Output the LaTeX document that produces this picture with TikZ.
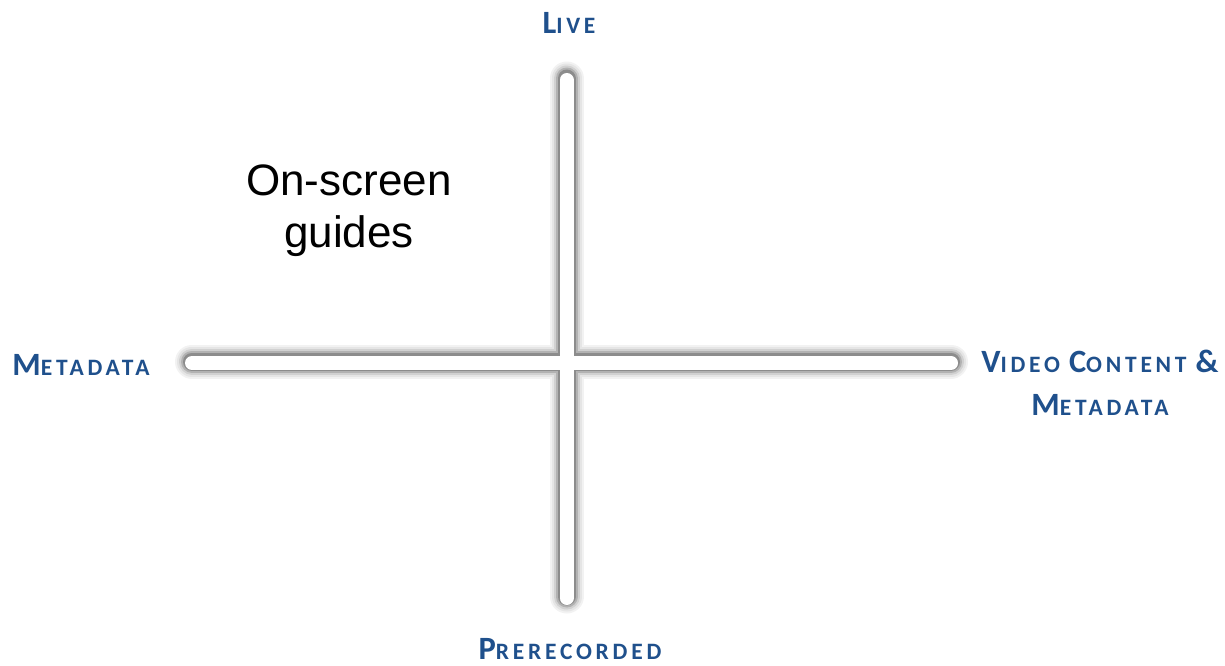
\documentclass[tikz,border=0pt]{standalone}
\usepackage{fontspec}
\setmainfont{Liberation Sans}
\newfontfamily\lblfont{Carlito}[BoldFont={* Bold}, LetterSpace=16]
\definecolor{axisblue}{RGB}{31,80,140}
\newcommand\fakesc[2]{{\fontsize{32.5}{40}\selectfont #1}{\fontsize{23.5}{40}\selectfont #2}}
\tikzset{
  axislabel/.style={text=axisblue, font=\lblfont\bfseries\fontsize{23.5}{43}\selectfont, inner sep=0pt, anchor=base},
  shadowA/.style={draw=black!5, line width=34pt, line cap=round},
  shadowB/.style={draw=black!10, line width=30pt, line cap=round},
  shadowC/.style={draw=black!18, line width=26pt, line cap=round},
  shadowD/.style={draw=black!30, line width=22pt, line cap=round},
  shadowE/.style={draw=black!45, line width=18pt, line cap=round},
  barwhite/.style={draw=white, line width=14pt, line cap=round},
}
\begin{document}
\begin{tikzpicture}[x=1pt,y=-1pt]
\useasboundingbox (0,0) rectangle (1225,665);
\coordinate (vtop) at (566.5,80);
\coordinate (vbot) at (566.5,598);
\coordinate (hleft) at (192,363);
\coordinate (hright) at (951,363);
\foreach \s in {shadowA,shadowB,shadowC,shadowD,shadowE}{
  \draw[\s] ([yshift=1.5pt]vtop) -- ([yshift=1.5pt]vbot);
  \draw[\s] ([yshift=1.5pt]hleft) -- ([yshift=1.5pt]hright);
}
\draw[barwhite] (vtop) -- (vbot);
\draw[barwhite] (hleft) -- (hright);
\node[axislabel] (live) at (569,33) {\fakesc{L}{IVE}};
\node[axislabel] (prerec) at (570,659) {\fakesc{P}{RERECORDED}};
\node[axislabel] (meta) at (81,375) {\fakesc{M}{ETADATA}};
\node[axislabel, align=center] (video) at (1100,415) {\fakesc{V}{IDEO} \fakesc{C}{ONTENT} \fakesc{\&}{}\\\fakesc{M}{ETADATA}};
\node[font=\fontsize{44}{52}\selectfont, align=center, anchor=base, inner sep=0pt] (guides) at (349,247) {On-screen\\guides};
\end{tikzpicture}
\end{document}
